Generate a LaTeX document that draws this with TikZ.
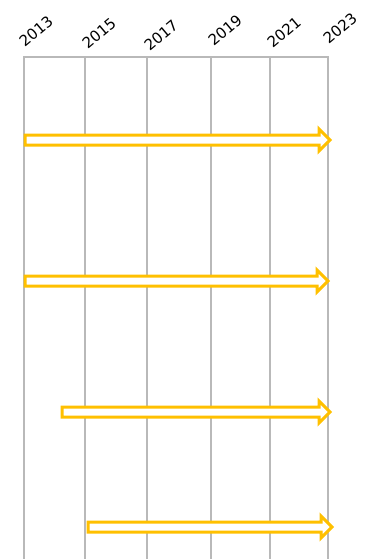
\documentclass[tikz,border=0pt]{standalone}
\usepackage{fontspec}
\setmainfont{DejaVu Sans}
\begin{document}
\begin{tikzpicture}[x=1pt,y=-1pt,
  grid/.style={draw=gray!55,line width=2.2pt},
  yr/.style={rotate=40,font=\fontsize{15}{15}\selectfont,inner sep=0pt},
  arr/.style={draw={rgb,255:red,255;green,192;blue,0},line width=3pt,fill=white,line join=miter}]
\useasboundingbox (0,0) rectangle (371,559);
% grid
\draw[grid] (24,559) -- (24,57) -- (328,57) -- (328,559);
\foreach \x in {85,147,211,270} \draw[grid] (\x,57) -- (\x,559);
% years
\node[yr] (y13) at (36,31) {2013};
\node[yr] (y15) at (99,33) {2015};
\node[yr] (y17) at (161,35) {2017};
\node[yr] (y19) at (225,30) {2019};
\node[yr] (y21) at (284,32) {2021};
\node[yr] (y23) at (340,28) {2023};
% arrows
\newcommand{\tlarrow}[3]{%
  \draw[arr] (#1,#3-5) -- (#2-11,#3-5) -- (#2-11,#3-11) -- (#2,#3) -- (#2-11,#3+11) -- (#2-11,#3+5) -- (#1,#3+5) -- cycle;}
\tlarrow{25}{330}{140}
\tlarrow{25}{328}{281}
\tlarrow{62}{330}{412}
\tlarrow{88}{332}{527}
\end{tikzpicture}
\end{document}
